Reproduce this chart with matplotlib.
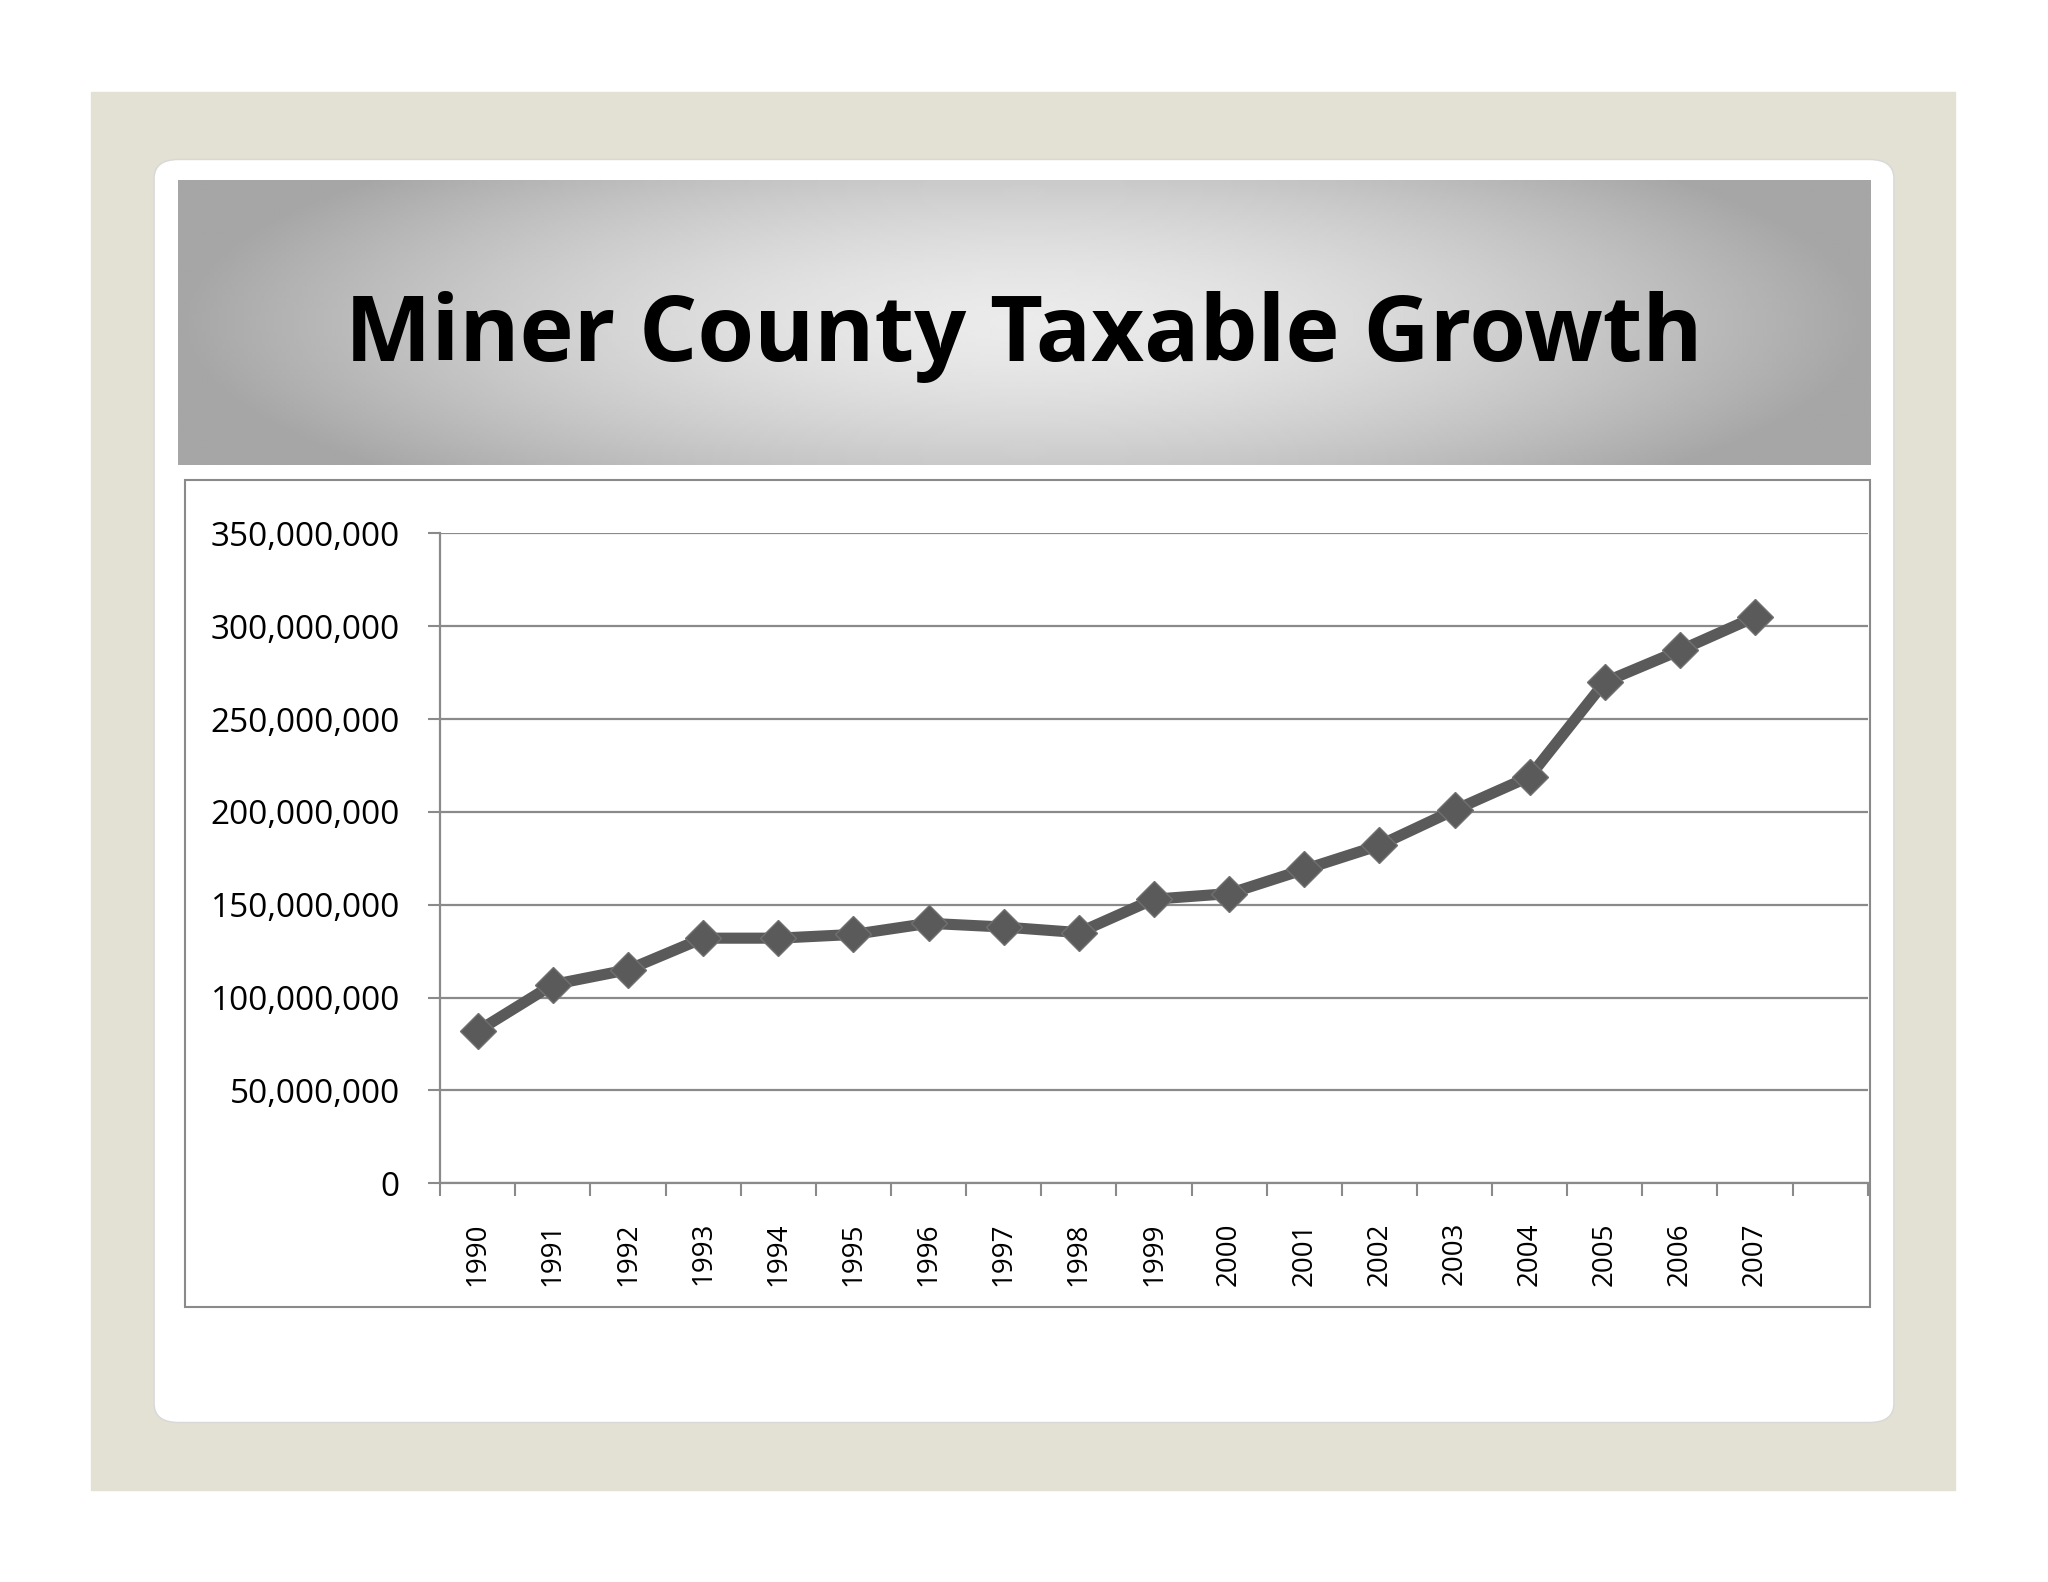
import matplotlib
import matplotlib.pyplot as plt
import matplotlib.patches as mpatches
import numpy as np
from matplotlib.ticker import FuncFormatter, FixedLocator

matplotlib.use("Agg")

YEARS = [str(y) for y in range(1990, 2008)]
VALUES_M = [82, 107, 115, 132, 132, 134, 140, 138, 135, 153, 156, 169, 182, 201, 219, 270, 287, 305]
TITLE = "Miner County Taxable Growth"

W, H = 1568.0, 1210.0   # layout measured on a 1568-wide copy


def rect(x0, y0, x1, y1):
    return [x0 / W, 1 - y1 / H, (x1 - x0) / W, (y1 - y0) / H]


fig = plt.figure(figsize=(20.48, 15.82), dpi=100)
fig.patch.set_facecolor("white")

# beige slide frame and white rounded card
fig.patches.append(mpatches.Rectangle((70 / W, 1 - 1140 / H), 1427 / W, 1070 / H,
                                      transform=fig.transFigure, color="#e2e1d3", zorder=0))
fig.patches.append(mpatches.FancyBboxPatch((118 / W, 1 - 1088 / H), 1332 / W, 966 / H,
                                           boxstyle="round,pad=0,rounding_size=0.012",
                                           transform=fig.transFigure, facecolor="white",
                                           edgecolor="#d8d8d8", zorder=1))

# gradient title banner
ban = fig.add_axes(rect(136, 138, 1432, 356))
ban.set_zorder(2.5)
gx, gy = np.meshgrid(np.linspace(-1, 1, 400), np.linspace(-1, 1, 100))
r = np.clip(np.sqrt((gx / 1.0) ** 2 + (gy / 1.6) ** 2), 0, 1)
ban.imshow(0.92 - 0.27 * r ** 1.6, cmap="gray", vmin=0, vmax=1, aspect="auto",
           extent=[0, 1, 0, 1])
ban.set_axis_off()
fig.text((136 + 1432) / 2 / W, 1 - 258 / H, TITLE, ha="center", va="center",
         fontsize=66, fontweight="bold", family="Open Sans", color="black", zorder=5)

# chart frame
fig.patches.append(mpatches.Rectangle((142 / W, 1 - 1000 / H), 1290 / W, 633 / H,
                                      transform=fig.transFigure, facecolor="white",
                                      edgecolor="#8a8a8a", linewidth=1.5, zorder=2))

ax = fig.add_axes(rect(337, 408, 1430, 905))
ax.set_zorder(3)
ax.patch.set_alpha(0)
x = np.arange(len(YEARS))
ax.plot(x, np.array(VALUES_M) * 1e6, color="#5a5a5a", linewidth=8,
        marker="D", markersize=18, markerfacecolor="#5a5a5a",
        markeredgecolor="#707070", zorder=4)

ax.set_xlim(-0.5, len(YEARS) + 0.5)
ax.set_ylim(0, 350e6)
ax.set_yticks(np.arange(0, 351e6, 50e6))
ax.yaxis.set_major_formatter(FuncFormatter(lambda v, p: f"{int(v):,}"))
ax.yaxis.grid(True, color="#8a8a8a", linewidth=1.6)
ax.set_axisbelow(True)

ax.set_xticks(x)
ax.set_xticklabels(YEARS, rotation=90, family="Open Sans", fontsize=20)
ax.tick_params(axis="x", which="major", length=0, pad=28)
ax.xaxis.set_minor_locator(FixedLocator(np.arange(-0.5, len(YEARS) + 1, 1)))
ax.tick_params(axis="x", which="minor", length=9, width=1.5, color="#8a8a8a")
ax.tick_params(axis="y", length=9, width=1.5, color="#8a8a8a", pad=20)
for lbl in ax.get_yticklabels():
    lbl.set_family("Open Sans")
    lbl.set_fontsize(24)

for s in ["top", "right"]:
    ax.spines[s].set_visible(False)
for s in ["left", "bottom"]:
    ax.spines[s].set_color("#8a8a8a")
    ax.spines[s].set_linewidth(1.6)

fig.savefig("out.png", dpi=100)
